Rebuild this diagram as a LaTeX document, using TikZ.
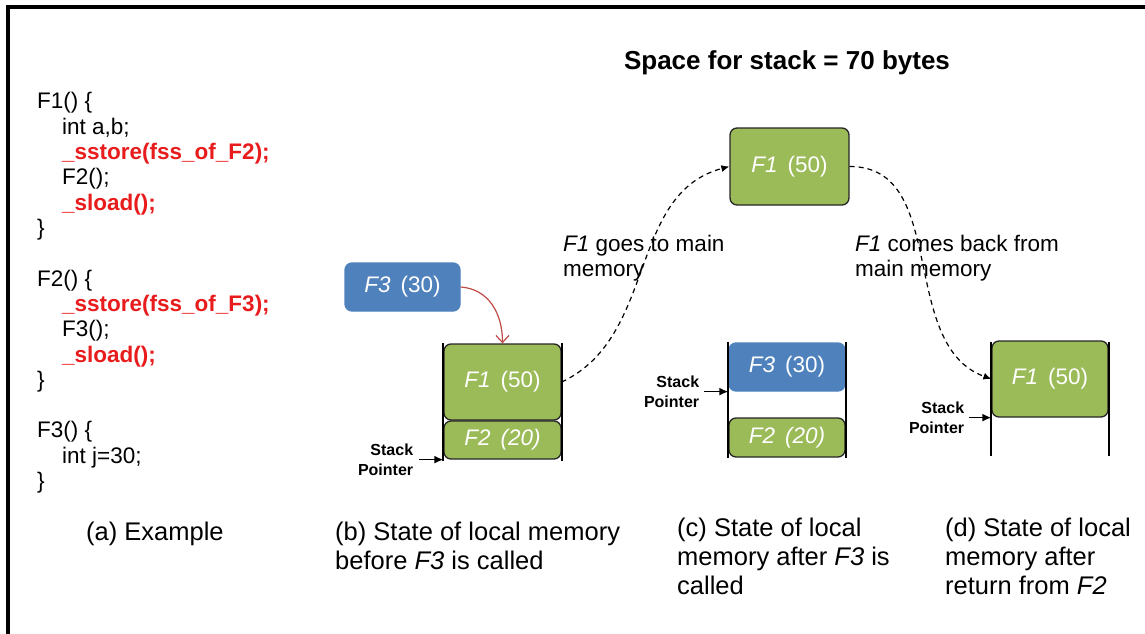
\documentclass[tikz,border=0pt]{standalone}
\usepackage{fontspec}
\setmainfont{Liberation Sans}
\usetikzlibrary{arrows.meta,positioning}

\definecolor{blockgreen}{RGB}{155,187,89}
\definecolor{blockblue}{RGB}{79,129,189}
\definecolor{codered}{RGB}{232,28,28}
\definecolor{callred}{RGB}{190,75,72}

\newcommand{\redline}[1]{\textcolor{codered}{\textbf{#1}}}

\tikzset{
  memblock/.style={rounded corners=7pt, line width=1.3pt, inner sep=0pt, text=white,
    font=\fontsize{22.5}{25}\selectfont},
  greenblock/.style={memblock, fill=blockgreen, draw=black!85},
  blueblock/.style={memblock, fill=blockblue, draw=blockblue},
  railline/.style={line width=1.8pt},
  codeline/.style={anchor=base west, inner sep=0pt, font=\fontsize{22.5}{25}\selectfont},
  titletext/.style={anchor=base, inner sep=0pt, font=\bfseries\fontsize{26}{30}\selectfont},
  captext/.style={anchor=base west, align=left, inner sep=0pt, font=\fontsize{25.5}{29}\selectfont},
  notetext/.style={anchor=base west, align=left, inner sep=0pt, font=\fontsize{22.5}{25}\selectfont},
  sptext/.style={align=right, inner sep=0pt, font=\bfseries\fontsize{16}{19.5}\selectfont},
  sparrow/.style={line width=1.6pt, -{Latex[length=9pt,width=8pt]}},
  movearrow/.style={line width=1.2pt, dash pattern=on 5pt off 4pt, -{Latex[length=8pt,width=7pt]}},
  callarrow/.style={line width=1.2pt, callred, -{Straight Barb[length=7pt,width=13pt]}}
}

\begin{document}
\begin{tikzpicture}[x=1pt,y=-1pt]
\useasboundingbox (0,0) rectangle (1145,634);

% Frame (top and left edge)
\draw[line width=4pt] (8,634) -- (8,7) -- (1145,7);

% Title
\node[titletext] (title) at (787,70) {Space for stack = 70 bytes};

% (a) code listing
\foreach \k/\ind/\txt in {0/0/{F1() \{}, 1/1/{int a,b;}, 2/1/{\redline{\_sstore(fss\_of\_F2);}},
    3/1/{F2();}, 4/1/{\redline{\_sload();}}, 5/0/{\}}, 7/0/{F2() \{},
    8/1/{\redline{\_sstore(fss\_of\_F3);}}, 9/1/{F3();}, 10/1/{\redline{\_sload();}},
    11/0/{\}}, 13/0/{F3() \{}, 14/1/{int j=30;}, 15/0/{\}}}
  \node[codeline] (code\k) at (37+25*\ind,108.7+25.33*\k) {\txt};
\node[captext] (capa) at (86,540) {(a) Example};

% (b) before F3 is called
\node[blueblock, minimum width=115pt, minimum height=48pt] (f3b) at (402.5,287) {\textit{F3}\hspace{.45em}(30)};
\node[greenblock, minimum width=117pt, minimum height=76pt] (f1b) at (502.5,382) {\textit{F1}\hspace{.45em}(50)};
\node[greenblock, minimum width=117pt, minimum height=38pt] (f2b) at (502.5,440) {\textit{F2\hspace{.45em}(20)}};
\draw[railline] (443,343) -- (443,461);
\draw[railline] (562,343) -- (562,461);
\draw[callarrow] (f3b.east) .. controls +(28,2) and +(0,-30) .. (f1b.north);
\node[sptext, left=30pt of f2b.south west] (spb) {Stack\\Pointer};
\draw[sparrow] ([xshift=6pt]spb.east) -- (f2b.south west);
\node[captext] (capb) at (335,569) {(b) State of local memory\\before \textit{F3} is called};

% F1 spilled to main memory
\node[greenblock, minimum width=119pt, minimum height=77pt] (f1top) at (789.5,166.5) {\textit{F1}\hspace{.45em}(50)};
\draw[movearrow] (f1b.east) .. controls +(96,-45) and +(-102,27) .. (f1top.west);
\node[notetext] (goes) at (563,276) {\textit{F1} goes to main\\memory};
\node[notetext] (comes) at (855,276) {\textit{F1} comes back from\\main memory};

% (c) after F3 is called
\node[blueblock, minimum width=116pt, minimum height=48pt] (f3c) at (787,367) {\textit{F3}\hspace{.45em}(30)};
\node[greenblock, minimum width=116pt, minimum height=39pt] (f2c) at (787,437.5) {\textit{F2\hspace{.45em}(20)}};
\draw[railline] (728,342) -- (728,458);
\draw[railline] (846,342) -- (846,458);
\node[sptext, left=29pt of f3c.south west] (spc) {Stack\\Pointer};
\draw[sparrow] ([xshift=5pt]spc.east) -- (f3c.south west);
\node[captext] (capc) at (677,594) {(c) State of local\\memory after \textit{F3} is\\called};

% (d) after return from F2
\node[greenblock, minimum width=116pt, minimum height=76pt] (f1d) at (1050,379) {\textit{F1}\hspace{.45em}(50)};
\draw[railline] (991,342) -- (991,456);
\draw[railline] (1109,342) -- (1109,456);
\draw[movearrow] (f1top.east) .. controls +(100,0) and +(-94,-34) .. (f1d.west);
\node[sptext, left=27pt of f1d.south west] (spd) {Stack\\Pointer};
\draw[sparrow] ([xshift=5pt]spd.east) -- (f1d.south west);
\node[captext] (capd) at (945,594) {(d) State of local\\memory after\\return from \textit{F2}};
\end{tikzpicture}
\end{document}
